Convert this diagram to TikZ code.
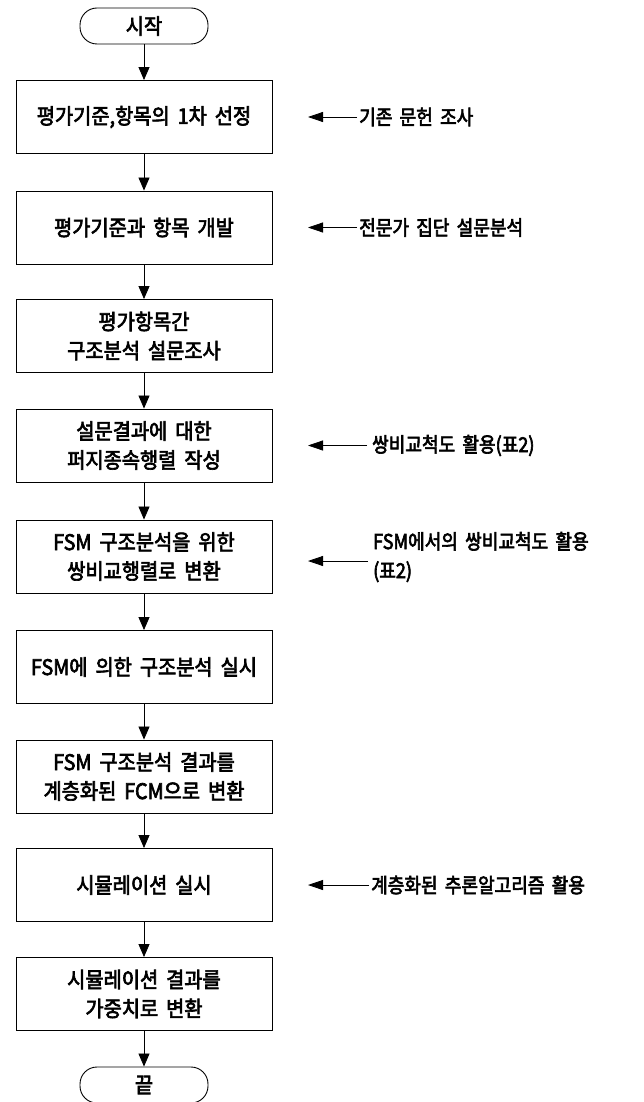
\documentclass[tikz,border=0pt]{standalone}
\usepackage{fontspec}
\newfontfamily\kr{Noto Sans CJK KR}[FakeStretch=0.92,WordSpace=1.8,FakeBold=3]
\newfontfamily\kra{Noto Sans CJK KR}[FakeStretch=0.88,WordSpace=1.8,FakeBold=3]
\usetikzlibrary{arrows.meta}
\tikzset{
  txt/.style={font=\kr\fontsize{21.5}{29}\selectfont},
  atxt/.style={font=\kra\fontsize{20.5}{29}\selectfont},
  box/.style={txt, draw, line width=0.9pt, minimum width=256pt, minimum height=73pt, align=center, inner sep=0pt},
  term/.style={txt, draw, line width=0.9pt, rounded corners=17pt, minimum width=128pt, minimum height=36pt, inner sep=0pt},
  flow/.style={-{Triangle[length=13pt,width=11pt]}, line width=0.8pt},
  ann/.style={atxt, anchor=west, align=left, inner sep=0pt},
  annarrow/.style={-{Triangle[length=15pt,width=10pt]}, line width=0.8pt}
}
\begin{document}
\begin{tikzpicture}[x=1pt,y=-1pt]
\useasboundingbox (0,0) rectangle (643,1102);
\node[term] (s) at (144,26) {시작};
\node[box] (b1) at (144,117) {평가기준,항목의 1차 선정};
\node[box] (b2) at (144,227.5) {평가기준과 항목 개발};
\node[box] (b3) at (144,336) {평가항목간\\구조분석 설문조사};
\node[box] (b4) at (144,445.5) {설문결과에 대한\\퍼지종속행렬 작성};
\node[box] (b5) at (144,556.5) {FSM 구조분석을 위한\\쌍비교행렬로 변환};
\node[box] (b6) at (144,667) {FSM에 의한 구조분석 실시};
\node[box] (b7) at (144,776.5) {FSM 구조분석 결과를\\계층화된 FCM으로 변환};
\node[box] (b8) at (144,885) {시뮬레이션 실시};
\node[box] (b9) at (144,994) {시뮬레이션 결과를\\가중치로 변환};
\node[term] (e) at (144,1085) {끝};
\draw[flow] (s) -- (b1);
\draw[flow] (b1) -- (b2);
\draw[flow] (b2) -- (b3);
\draw[flow] (b3) -- (b4);
\draw[flow] (b4) -- (b5);
\draw[flow] (b5) -- (b6);
\draw[flow] (b6) -- (b7);
\draw[flow] (b7) -- (b8);
\draw[flow] (b8) -- (b9);
\draw[flow] (b9) -- (e);
% annotations
\node[ann] (a1) at (359,117) {기존 문헌 조사};
\node[ann] (a2) at (359,227.5) {전문가 집단 설문분석};
\node[ann] (a3) at (372,445.5) {쌍비교척도 활용(표2)};
\node[ann] (a4) at (373,557) {FSM에서의 쌍비교척도 활용\\(표2)};
\node[ann] (a5) at (371,885) {계층화된 추론알고리즘 활용};
\coordinate (t1) at (308,117);
\coordinate (t2) at (308,227.5);
\coordinate (t3) at (308,445.5);
\coordinate (t4) at (308,561);
\coordinate (t5) at (308,885);
\draw[annarrow] ([xshift=-2pt]a1.west) -- (t1);
\draw[annarrow] ([xshift=-2pt]a2.west) -- (t2);
\draw[annarrow] ([xshift=-5pt]a3.west) -- (t3);
\draw[annarrow] ([xshift=-5pt]a4.west |- t4) -- (t4);
\draw[annarrow] ([xshift=-2pt]a5.west) -- (t5);
\end{tikzpicture}
\end{document}
